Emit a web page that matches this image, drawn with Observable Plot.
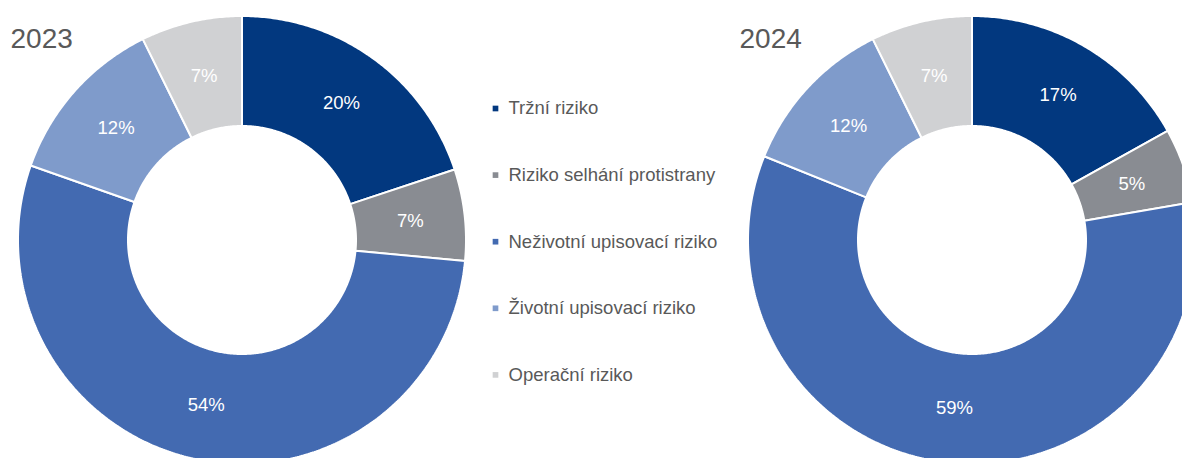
<!DOCTYPE html>
<html><head><meta charset="utf-8">
<script src="https://cdn.jsdelivr.net/npm/d3@7"></script>
<script src="https://cdn.jsdelivr.net/npm/@observablehq/plot@0.6"></script>
<style>body{margin:0;background:#fff;overflow:hidden} svg{display:block}</style>
</head><body><div id="chart"></div>
<script>
const categories = ["Tržní riziko", "Riziko selhání protistrany", "Neživotní upisovací riziko", "Životní upisovací riziko", "Operační riziko"];
const colors = ["#02387f", "#898c92", "#436ab1", "#7f9bcb", "#d0d1d3"];
const years = ["2023", "2024"];
const values2023 = [19.9, 6.6, 53.9, 12.3, 7.3];
const values2024 = [16.9, 5.4, 58.8, 11.6, 7.3];

const W = 1182, H = 458;
const R_OUT = 224, R_IN = 114;
const donuts = [
  {year: years[0], values: values2023, cx: 242, cy: 240, tx: 10},
  {year: years[1], values: values2024, cx: 972, cy: 240, tx: 739}
];
const arcPts = [], labels = [], titles = [];
donuts.forEach(d => {
  const total = d3.sum(d.values);
  let acc = 0;
  titles.push({x: d.tx, y: 39, text: d.year});
  d.values.forEach((v, i) => {
    const a0 = acc / total * 2 * Math.PI; acc += v;
    const a1 = acc / total * 2 * Math.PI;
    const key = d.year + "-" + i;
    const n = Math.max(2, Math.ceil((a1 - a0) / 0.01));
    for (let k = 0; k <= n; k++) {
      const t = a0 + (a1 - a0) * k / n;
      arcPts.push({key, cat: categories[i],
        x1: d.cx + R_IN * Math.sin(t), y1: d.cy - R_IN * Math.cos(t),
        x2: d.cx + R_OUT * Math.sin(t), y2: d.cy - R_OUT * Math.cos(t)});
    }
    const am = (a0 + a1) / 2, rm = (R_IN + R_OUT) / 2;
    labels.push({x: d.cx + rm * Math.sin(am), y: d.cy - rm * Math.cos(am), text: Math.round(v) + "%"});
  });
});
const legend = categories.map((c, i) => ({cat: c, x: 495, y: 108 + i * 66.6}));
const FONT = "'Liberation Sans', Arial, sans-serif";

const chart = Plot.plot({
  width: W, height: H, margin: 0,
  style: {background: "#fff", fontFamily: FONT},
  x: {domain: [0, W], range: [0, W], axis: null},
  y: {domain: [0, H], range: [0, H], axis: null},
  color: {domain: categories, range: colors},
  marks: [
    Plot.area(arcPts, {x1: "x1", y1: "y1", x2: "x2", y2: "y2", z: "key", fill: "cat", stroke: "white", strokeWidth: 2, strokeLinejoin: "miter"}),
    Plot.text(labels, {x: "x", y: "y", text: "text", fill: "white", fontSize: 18.5, fontFamily: FONT}),
    Plot.text(titles, {x: "x", y: "y", text: "text", fill: "#595959", fontSize: 28, textAnchor: "start", fontFamily: FONT}),
    Plot.dot(legend, {x: "x", y: "y", fill: "cat", symbol: "square", r: 3.2}),
    Plot.text(legend, {x: d => d.x + 13, y: "y", text: "cat", fill: "#595959", fontSize: 18.5, textAnchor: "start", fontFamily: FONT})
  ]
});
document.getElementById("chart").appendChild(chart);
</script>
</body></html>
